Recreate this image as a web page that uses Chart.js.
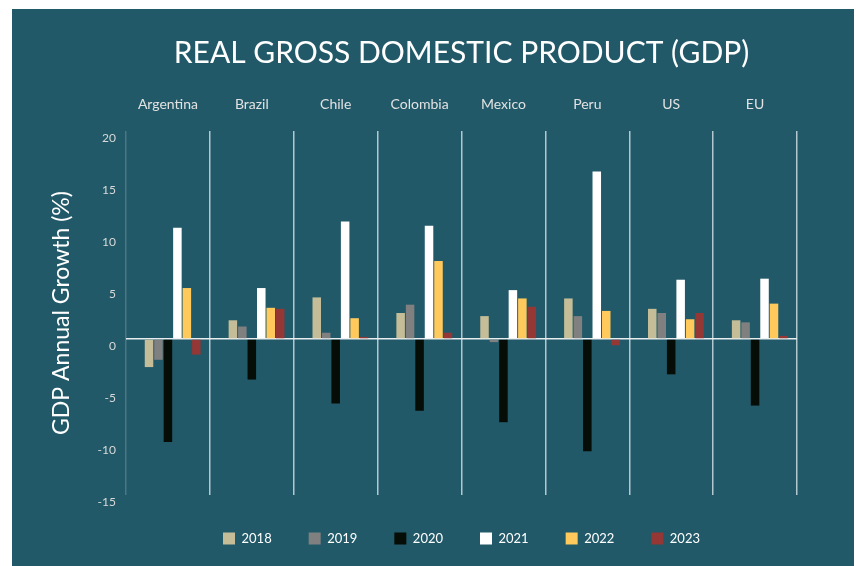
<!DOCTYPE html>
<html>
<head>
<meta charset="utf-8">
<script src="https://cdn.jsdelivr.net/npm/chart.js@4"></script>
<style>
  html, body { margin: 0; padding: 0; background: #ffffff; }
  #box { position: absolute; left: 12px; top: 9px; width: 842px; height: 557px; background: #215968; }
</style>
</head>
<body>
<div id="box"><canvas id="gdp" width="842" height="557"></canvas></div>
<script>
const countries = ['Argentina', 'Brazil', 'Chile', 'Colombia', 'Mexico', 'Peru', 'US', 'EU']
const years = ['2018', '2019', '2020', '2021', '2022', '2023']

// growth in %, one array per year, same order as countries
const y2018 = [-2.7, 1.8, 4.0, 2.5, 2.2, 3.9, 2.9, 1.8]
const y2019 = [-2.0, 1.2, 0.6, 3.3, -0.3, 2.2, 2.5, 1.6]
const y2020 = [-9.9, -3.9, -6.2, -6.9, -8.0, -10.8, -3.4, -6.4]
const y2021 = [10.7, 4.9, 11.3, 10.9, 4.7, 16.1, 5.7, 5.8]
const y2022 = [4.9, 3.0, 2.0, 7.5, 3.9, 2.7, 1.9, 3.4]
const y2023 = [-1.5, 2.9, 0.2, 0.6, 3.1, -0.6, 2.5, 0.3]

const yTicks = { min: -15, max: 20, step: 5 }

const series = [y2018, y2019, y2020, y2021, y2022, y2023]
const colors = ['#c4bd97', '#808080', '#060c06', '#ffffff', '#ffc95c', '#953735']

// the original chart leaves an empty slot before the first bar of every group
const datasets = [{ label: '', data: countries.map(() => null), backgroundColor: 'rgba(0,0,0,0)' }]
for (let i = 0; i < years.length; i++) {
  datasets.push({
    label: years[i],
    data: series[i],
    backgroundColor: colors[i],
    borderWidth: 0
  })
}

new Chart(document.getElementById('gdp'), {
  type: 'bar',
  data: { labels: countries, datasets: datasets },
  options: {
    responsive: false,
    animation: false,
    categoryPercentage: 0.79,
    barPercentage: 0.9,
    layout: { padding: { left: 0, right: 57, top: 0, bottom: 11 } },
    plugins: {
      title: {
        display: true,
        fullSize: false,
        text: 'REAL GROSS DOMESTIC PRODUCT (GDP)',
        color: '#ffffff',
        font: { family: 'Lato', size: 30, weight: '400' },
        padding: { top: 26, bottom: 0 }
      },
      legend: {
        position: 'bottom',
        fullSize: false,
        maxHeight: 72,
        labels: {
          color: '#ffffff',
          font: { family: 'Lato', size: 13 },
          boxWidth: 12,
          boxHeight: 12,
          padding: 37,
          filter: (item) => item.text !== ''
        }
      },
      tooltip: { enabled: false }
    },
    scales: {
      x: {
        position: 'top',
        border: { display: false },
        grid: {
          offset: true,
          drawTicks: false,
          lineWidth: 1.5,
          color: (ctx) => ctx.index === 0 ? '#4d7683' : '#b3c8ce'
        },
        ticks: {
          color: '#e2e2e2',
          font: { family: 'Lato', size: 14 },
          padding: 18
        },
        afterFit: (scale) => { scale.height = 60 }
      },
      y: {
        min: yTicks.min,
        max: yTicks.max,
        border: { display: false },
        grid: {
          drawTicks: false,
          lineWidth: 1.5,
          color: (ctx) => ctx.tick && ctx.tick.value === 0 ? '#e8eef0' : 'rgba(0,0,0,0)'
        },
        ticks: {
          stepSize: yTicks.step,
          color: '#d9d9d9',
          font: { family: 'Lato', size: 12 },
          padding: 10,
          labelOffset: 7
        },
        title: {
          display: true,
          text: 'GDP Annual Growth (%)',
          color: '#ffffff',
          font: { family: 'Lato', size: 23 },
          padding: { top: 36, bottom: 0 }
        },
        afterFit: (scale) => { scale.width = 114 }
      }
    }
  }
})
</script>
</body>
</html>
